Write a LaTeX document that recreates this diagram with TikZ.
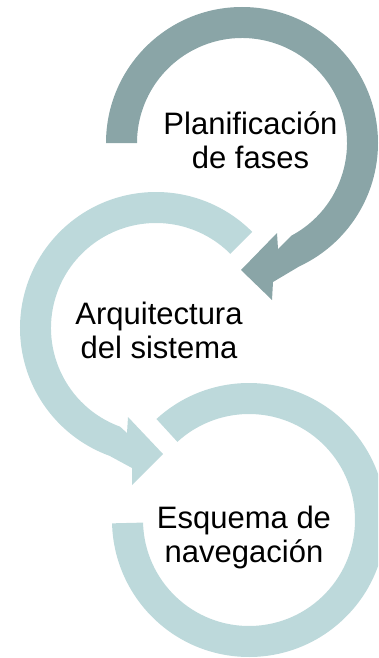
\documentclass[tikz,border=0pt]{standalone}
\usepackage{fontspec}
\setmainfont{Liberation Sans}
\usetikzlibrary{calc}
\definecolor{darkarc}{RGB}{138,165,167}
\definecolor{lightarc}{RGB}{189,217,219}
\begin{document}
\begin{tikzpicture}[x=1pt,y=1pt,
  arcshape/.style={draw=none},
  lbl/.style={align=center,anchor=base,inner sep=0pt,font=\fontsize{31}{34}\selectfont}]
\useasboundingbox (0,0) rectangle (378,-658);
\clip (0,0) rectangle (378,-658);
% centres
\coordinate (c1) at (242,-143);
\coordinate (c2) at (156,-328);
\coordinate (c3) at (249,-520);
% arrow 1 head points
\coordinate (a1ob) at (273,-282);
\coordinate (a1lb) at (272,-300);
\coordinate (a1tip) at (241,-270);
\coordinate (a1ub) at (277,-233);
\coordinate (a1ib) at (278,-249);
% arrow 2 head points
\coordinate (a2ob) at (132,-468);
\coordinate (a2lb) at (132,-485);
\coordinate (a2tip) at (163,-454);
\coordinate (a2ub) at (128,-417);
\coordinate (a2ib) at (127,-433);
% arc 3
\fill[lightarc,arcshape] ($(c3)+(132.5:137)$) arc[start angle=132.5,end angle=-178.6,radius=137]
  -- ($(c3)+(-178.6:106)$) arc[start angle=-178.6,end angle=132.5,radius=106] -- cycle;
% arc 2
\fill[lightarc,arcshape] ($(c2)+(45:136)$) arc[start angle=45,end angle=250,radius=136]
  -- (a2ob) -- (a2lb) -- (a2tip) -- (a2ub) -- (a2ib)
  -- ($(c2)+(250:105)$) arc[start angle=250,end angle=45,radius=105] -- cycle;
% arc 1
\fill[darkarc,arcshape] ($(c1)+(180:136)$) arc[start angle=180,end angle=-65,radius=136]
  -- (a1ob) -- (a1lb) -- (a1tip) -- (a1ub) -- (a1ib)
  -- ($(c1)+(-62:105)$) arc[start angle=-62,end angle=180,radius=105] -- cycle;
% labels (base anchor = baseline of last line)
\node[lbl] (t1) at (250.5,-168) {Planificación\\de fases};
\node[lbl] (t2) at (159,-358) {Arquitectura\\del sistema};
\node[lbl] (t3) at (244,-562) {Esquema de\\navegación};
\end{tikzpicture}
\end{document}
